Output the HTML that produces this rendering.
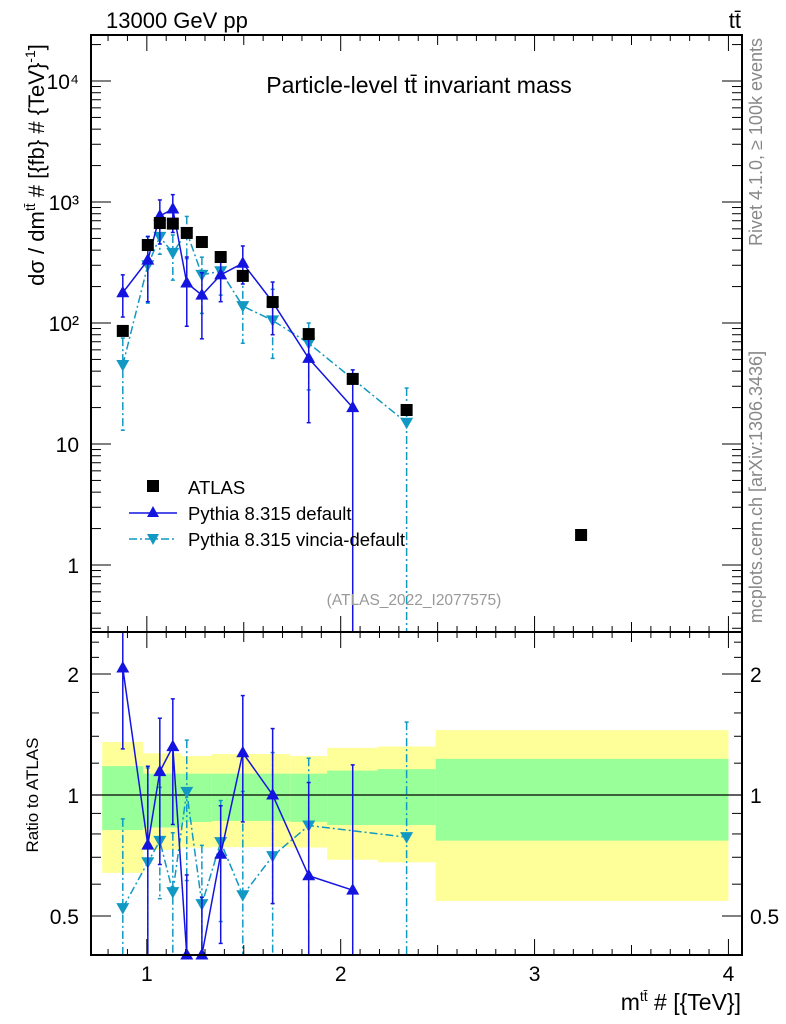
<!DOCTYPE html>
<html><head><meta charset="utf-8">
<style>
html,body{margin:0;padding:0;background:#fff;}
svg{display:block;font-family:"Liberation Sans",Arial,sans-serif;}
</style></head>
<body>
<svg id="c" width="786" height="1024" viewBox="0 0 786 1024" xmlns="http://www.w3.org/2000/svg">
<g id="bands"></g>
<g id="marks"></g>
<g id="axes"></g>
<text x="106" y="28" font-size="22">13000 GeV pp</text>
<text x="741" y="28" font-size="22" text-anchor="end">tt̄</text>
<text x="419" y="93" font-size="23" text-anchor="middle">Particle-level tt̄ invariant mass</text>
<text x="414" y="605" font-size="15.5" fill="#999" text-anchor="middle">(ATLAS_2022_I2077575)</text>
<text transform="translate(762,142) rotate(-90)" font-size="18" fill="#888" text-anchor="middle">Rivet 4.1.0, ≥ 100k events</text>
<text transform="translate(762,487) rotate(-90)" font-size="18" fill="#888" text-anchor="middle">mcplots.cern.ch [arXiv:1306.3436]</text>
<text transform="translate(44,165) rotate(-90)" font-size="22" text-anchor="middle">dσ / dm<tspan font-size="14" dy="-9">tt̄</tspan><tspan dy="9"> # [{fb} # {TeV}</tspan><tspan font-size="14" dy="-9">-1</tspan><tspan dy="9">]</tspan></text>
<text transform="translate(38,795) rotate(-90)" font-size="17" text-anchor="middle">Ratio to ATLAS</text>
<text x="741" y="1010" font-size="23" text-anchor="end">m<tspan font-size="14" dy="-9">tt̄</tspan><tspan dy="9"> # [{TeV}]</tspan></text>
<g>
<rect x="147" y="480" width="12" height="12" fill="#000"/>
<text x="188" y="494" font-size="18.5">ATLAS</text>
<line x1="129" y1="513" x2="177" y2="513" stroke="#1414e0" stroke-width="1.5"/>
<polygon points="153,506 147,517 159,517" fill="#1414e0"/>
<text x="188" y="520" font-size="18.5">Pythia 8.315 default</text>
<line x1="129" y1="539" x2="177" y2="539" stroke="#1199c4" stroke-width="1.5" stroke-dasharray="8,3,2,3"/>
<polygon points="147,534 159,534 153,545" fill="#1199c4"/>
<text x="188" y="546" font-size="18.5">Pythia 8.315 vincia-default</text>
</g>
</svg>
<script>
// ---- data ----
const atlasX = [0.876,1.005,1.067,1.134,1.206,1.284,1.381,1.495,1.649,1.835,2.062,2.34,3.24];
const atlasY = [86,441,670,663,555,467,351,245,149,81,34.5,19.1,1.77];
const defX = [0.876,1.005,1.067,1.134,1.206,1.284,1.381,1.495,1.649,1.835,2.062];
const defY = [178,331,766,875,214,170,250,312,149,51,20];
const defLo = [112,150,450,560,94,74,150,210,80,15,0.1];
const defHi = [250,520,1040,1150,351,260,330,433,218,87,41];
const vinX = [0.876,1.005,1.067,1.134,1.206,1.284,1.381,1.495,1.649,1.835,2.34];
const vinY = [45,300,515,380,565,250,268,138,105,68,15];
const vinLo = [13,146,370,226,340,120,170,68,51,28,0.1];
const vinHi = [75,515,700,534,760,350,340,250,190,100,29];
const binEdges = [0.77,0.98,1.18,1.335,1.74,1.93,2.19,2.49,4.0];
const bandYlo = [0.64,0.73,0.74,0.742,0.74,0.69,0.68,0.545];
const bandYhi = [1.355,1.27,1.25,1.265,1.25,1.31,1.32,1.45];
const bandGlo = [0.818,0.83,0.857,0.862,0.857,0.842,0.842,0.77];
const bandGhi = [1.18,1.13,1.13,1.13,1.13,1.15,1.16,1.23];
const mainTicks = [1,10,100,1000,10000];
const mainTickLabels = ["1","10","10²","10³","10⁴"];
const ratioTicks = [0.5,1,2];
const ratioTickLabels = ["0.5","1","2"];
const xTicks = [1,2,3,4];
const xTickLabels = ["1","2","3","4"];
// ---- axes ----
const L=91,R=742,T=35,MB=632,RB=955;
const X0=0.712,X1=4.07;
const xs=v=>L+(v-X0)/(X1-X0)*(R-L);
const yMain=v=>565-Math.log10(v)*121;
const yRat=v=>795-Math.log2(v)*121;
const NS="http://www.w3.org/2000/svg";
function mk(tag,attrs,parent){const e=document.createElementNS(NS,tag);for(const k in attrs)e.setAttribute(k,attrs[k]);parent.appendChild(e);return e;}
const bands=document.getElementById('bands'),marks=document.getElementById('marks'),axes=document.getElementById('axes');
const clamp=(v,a,b)=>Math.max(a,Math.min(b,v));
for(let i=0;i<bandYlo.length;i++){
  const x1=xs(binEdges[i]),x2=xs(binEdges[i+1]);
  let r=mk('rect',{x:x1,y:yRat(bandYhi[i]),width:x2-x1,height:yRat(bandYlo[i])-yRat(bandYhi[i]),fill:'#ffff99'},bands);
  
  
  r=mk('rect',{x:x1,y:yRat(bandGhi[i]),width:x2-x1,height:yRat(bandGlo[i])-yRat(bandGhi[i]),fill:'#99ff99'},bands);
  
  
}
let ul=mk('line',{x1:L,x2:R,y1:yRat(1),y2:yRat(1),stroke:'#000','stroke-width':1.2},bands);


function series(xArr,yArr,lo,hi,ref,color,dash,up,name){
  const gm=mk('g',{},marks);
  
  
  const gr=mk('g',{},marks);
  
  
  const attrs={stroke:color,'stroke-width':1.5,fill:'none'};
  if(dash)attrs['stroke-dasharray']=dash;
  let pm=[],pr=[];
  for(let i=0;i<xArr.length;i++){
    const x=xs(xArr[i]);
    const ai=atlasX.indexOf(xArr[i]);const a=atlasY[ai];
    const ym=clamp(yMain(yArr[i]),T,MB), yr=clamp(yRat(yArr[i]/a),MB,RB);
    pm.push(x+','+ym);pr.push(x+','+yr);
    const e1=mk('line',Object.assign({x1:x,x2:x,y1:clamp(yMain(hi[i]),T,MB),y2:clamp(yMain(lo[i]),T,MB)},attrs),gm);
    
    
    const e2=mk('line',Object.assign({x1:x,x2:x,y1:clamp(yRat(hi[i]/a),MB,RB),y2:clamp(yRat(lo[i]/a),MB,RB)},attrs),gr);
    
    
    [[yMain(hi[i]),T,MB],[yMain(lo[i]),T,MB],[yRat(hi[i]/a),MB,RB],[yRat(lo[i]/a),MB,RB]].forEach(([yy,a1,b1],k)=>{
      if(yy>a1&&yy<b1){const c=mk('line',{x1:x-2,x2:x+2,y1:yy,y2:yy,stroke:color,'stroke-width':1.5},k<2?gm:gr);
      
      }
    });
    [[ym,gm],[yr,gr]].forEach(([yy,g])=>{
      const pts=up?`${x},${yy-7} ${x-6.5},${yy+4.5} ${x+6.5},${yy+4.5}`:`${x-6.5},${yy-5} ${x+6.5},${yy-5} ${x},${yy+6.5}`;
      const p=mk('polygon',{points:pts,fill:color},g);
      
      
    });
  }
  const l1=mk('polyline',Object.assign({points:pm.join(' ')},attrs),gm);
  
  
  const l2=mk('polyline',Object.assign({points:pr.join(' ')},attrs),gr);
  
  
}
series(vinX,vinY,vinLo,vinHi,atlasY,'#1199c4','8,3,2,3',false,'vincia');
series(defX,defY,defLo,defHi,atlasY,'#1414e0',null,true,'default');
for(let i=0;i<atlasX.length;i++){
  const r=mk('rect',{x:xs(atlasX[i])-6,y:yMain(atlasY[i])-6,width:12,height:12,fill:'#000'},marks);
  
  
}
[[T,MB],[MB,RB]].forEach(([a,b])=>{
  const f=mk('rect',{x:L,y:a,width:R-L,height:b-a,fill:'none',stroke:'#000','stroke-width':2},axes);
  
  
});
function tick(x1,y1,x2,y2){const t=mk('line',{x1,y1,x2,y2,stroke:'#000','stroke-width':1},axes);
  
  }
for(let k=8;k<=40;k++){const v=k/10;const x=xs(v);if(x<L||x>R)continue;
  const len=(k%10==0)?16:(k%5==0?10:6);
  [[MB,T],[RB,MB]].forEach(([b,t])=>{tick(x,b,x,b-len);tick(x,t,x,t+len);});}
xTicks.forEach((v,i)=>{const t=mk('text',{x:xs(v),y:981,'font-size':21,'text-anchor':'middle'},axes);t.textContent=xTickLabels[i];
  
  });
for(let d=-1;d<=4;d++)for(let m=1;m<=9;m++){const v=m*Math.pow(10,d);const y=yMain(v);if(y<T||y>MB)continue;
  const len=m==1?20:10;tick(L,y,L+len,y);tick(R,y,R-len,y);}
mainTicks.forEach((v,i)=>{const t=mk('text',{x:79,y:yMain(v)+8,'font-size':21,'text-anchor':'end'},axes);t.textContent=mainTickLabels[i];
  
  });
[0.4,0.5,0.6,0.7,0.8,0.9,1,2].forEach(v=>{const y=yRat(v);if(y<MB||y>RB)return;
  const len=(v==0.5||v==1||v==2)?20:10;tick(L,y,L+len,y);tick(R,y,R-len,y);});
[1.2,1.4,1.6,1.8,2.2,2.4].forEach(v=>{const y=yRat(v);tick(L,y,L+8,y);tick(R,y,R-8,y);});
ratioTicks.forEach((v,i)=>{[[79,'end'],[750,'start']].forEach(([x,a])=>{
  const t=mk('text',{x,y:yRat(v)+8,'font-size':21,'text-anchor':a},axes);t.textContent=ratioTickLabels[i];
  
  });});
</script>
</body></html>
